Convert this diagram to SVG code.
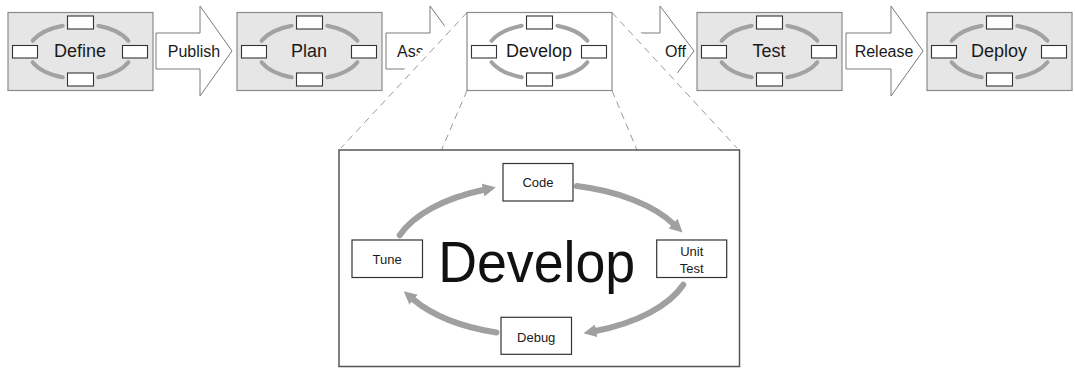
<svg xmlns="http://www.w3.org/2000/svg" xmlns:xlink="http://www.w3.org/1999/xlink" width="1075" height="368" viewBox="0 0 1075 368">
  <style>
    .stage { fill: #e6e6e6; stroke: #8a8a8a; stroke-width: 1.2; }
    .stage-hl { fill: #ffffff; stroke: #8a8a8a; stroke-width: 1.2; }
    .ring { fill: none; stroke: #a2a2a2; stroke-width: 4; stroke-linecap: round; }
    .slot { fill: #ffffff; stroke: #333333; stroke-width: 1.1; }
    .flow { fill: #ffffff; stroke: #7a7a7a; stroke-width: 1; }
    .lbl { font-family: "Liberation Sans", Arial, sans-serif; fill: #1a1a1a; text-anchor: middle; }
    .stage-lbl { font-size: 18px; }
    .flow-lbl { font-size: 16px; }
    .step-lbl { font-size: 13px; }
    .guide { fill: none; stroke: #9a9a9a; stroke-width: 1; stroke-dasharray: 7 5; }
    .detail { fill: #ffffff; stroke: #555555; stroke-width: 1.5; }
    .step { fill: #ffffff; stroke: #333333; stroke-width: 1.2; }
    .cycle { fill: none; stroke: #a0a0a0; stroke-width: 6; stroke-linecap: round; }
  </style>
  <defs>
    <!-- miniature cycle shown inside every stage box, centred on (0,0) -->
    <g id="mini-cycle">
      <path class="ring" d="M-47.9,-10.7 A52,27.5 0 0 1 -17.8,-25.8"/>
      <path class="ring" d="M17.8,-25.8 A52,27.5 0 0 1 47.9,-10.7"/>
      <path class="ring" d="M47.9,10.7 A52,27.5 0 0 1 17.8,25.8"/>
      <path class="ring" d="M-17.8,25.8 A52,27.5 0 0 1 -47.9,10.7"/>
      <rect class="slot" x="-13" y="-35.5" width="26" height="13"/>
      <rect class="slot" x="-13" y="21.5" width="26" height="13"/>
      <rect class="slot" x="-68" y="-6" width="25" height="12.5"/>
      <rect class="slot" x="42" y="-6" width="25" height="12.5"/>
    </g>
    <marker id="head" markerUnits="userSpaceOnUse" viewBox="0 0 13 13" markerWidth="13" markerHeight="13" refX="1" refY="6.5" orient="auto">
      <path d="M0,0 L13,6.5 L0,13 Z" fill="#a0a0a0"/>
    </marker>
  </defs>

  <!-- hand-over arrows between stages -->
  <g id="connectors">
    <g id="arrow-publish">
      <path class="flow" d="M156,33 H200 V6 L232,51 L200,96 V69 H156 Z"/>
      <text class="lbl flow-lbl" x="194" y="57">Publish</text>
    </g>
    <g id="arrow-assign">
      <path class="flow" d="M386,33 H430 V6 L463,51 L430,96 V69 H386 Z"/>
      <text class="lbl flow-lbl" x="397" y="57" style="text-anchor:start">Ass</text>
    </g>
    <g id="arrow-handoff">
      <path class="flow" d="M617,33 H660 V6 L694,51 L660,96 V69 H617 Z"/>
      <text class="lbl flow-lbl" x="665" y="57" style="text-anchor:start">Off</text>
    </g>
    <g id="arrow-release">
      <path class="flow" d="M846,33 H891 V6 L923,51 L891,96 V69 H846 Z"/>
      <text class="lbl flow-lbl" x="884" y="57">Release</text>
    </g>
  </g>

  <!-- white zoom funnel masking the arrows around the expanded stage -->
  <polygon id="zoom-funnel" points="468.6,0 611.3,0 747.5,150 329.7,150" fill="#ffffff"/>

  <g id="zoom-guides">
    <line class="guide" x1="467" y1="12.5" x2="341" y2="148"/>
    <line class="guide" x1="467" y1="90.5" x2="441.5" y2="150"/>
    <line class="guide" x1="612" y1="90.5" x2="637" y2="150"/>
    <line class="guide" x1="612" y1="12.5" x2="737" y2="148"/>
  </g>

  <!-- stage boxes -->
  <g id="stage-define">
    <rect class="stage" x="8" y="12.5" width="145" height="78"/>
    <use xlink:href="#mini-cycle" href="#mini-cycle" transform="translate(80.5,51.5)"/>
    <text class="lbl stage-lbl" x="80" y="57">Define</text>
  </g>
  <g id="stage-plan">
    <rect class="stage" x="237" y="12.5" width="145" height="78"/>
    <use xlink:href="#mini-cycle" href="#mini-cycle" transform="translate(309.5,51.5)"/>
    <text class="lbl stage-lbl" x="309" y="57">Plan</text>
  </g>
  <g id="stage-develop">
    <rect class="stage-hl" x="467" y="12.5" width="145" height="78"/>
    <use xlink:href="#mini-cycle" href="#mini-cycle" transform="translate(539.5,51.5)"/>
    <text class="lbl stage-lbl" x="539" y="57">Develop</text>
  </g>
  <g id="stage-test">
    <rect class="stage" x="697" y="12.5" width="145" height="78"/>
    <use xlink:href="#mini-cycle" href="#mini-cycle" transform="translate(769.5,51.5)"/>
    <text class="lbl stage-lbl" x="769" y="57">Test</text>
  </g>
  <g id="stage-deploy">
    <rect class="stage" x="927" y="12.5" width="145" height="78"/>
    <use xlink:href="#mini-cycle" href="#mini-cycle" transform="translate(999.5,51.5)"/>
    <text class="lbl stage-lbl" x="999" y="57">Deploy</text>
  </g>

  <!-- expanded view of the Develop stage -->
  <g id="develop-detail">
    <rect class="detail" x="339" y="150" width="400.5" height="216.5"/>
    <text x="536.7" y="281.7" font-family="'Liberation Sans', Arial, sans-serif" font-size="57" fill="#111111" text-anchor="middle" textLength="197" lengthAdjust="spacingAndGlyphs">Develop</text>
  </g>

  <g id="detail-connectors">
    <path class="cycle" d="M399.7,235.3 A150,76 0 0 1 484.1,189.8" marker-end="url(#head)"/>
    <path class="cycle" d="M576.8,186.1 A150,76 0 0 1 673.9,224.3" marker-end="url(#head)"/>
    <path class="cycle" d="M683.3,284.7 A150,76 0 0 1 595.3,331.0" marker-end="url(#head)"/>
    <path class="cycle" d="M496.4,332.5 A150,76 0 0 1 412.9,299.1" marker-end="url(#head)"/>
  </g>

  <g id="step-code">
    <rect class="step" x="503" y="163.5" width="70" height="37.5"/>
    <text class="lbl step-lbl" x="538" y="187">Code</text>
  </g>
  <g id="step-unit-test">
    <rect class="step" x="656.7" y="240" width="70" height="37.5"/>
    <text class="lbl step-lbl" x="691.7" y="256">Unit</text>
    <text class="lbl step-lbl" x="691.7" y="273">Test</text>
  </g>
  <g id="step-debug">
    <rect class="step" x="501" y="317.3" width="70.5" height="37"/>
    <text class="lbl step-lbl" x="536.2" y="341.5">Debug</text>
  </g>
  <g id="step-tune">
    <rect class="step" x="352" y="240" width="70.5" height="37.5"/>
    <text class="lbl step-lbl" x="387.2" y="264">Tune</text>
  </g>
</svg>
